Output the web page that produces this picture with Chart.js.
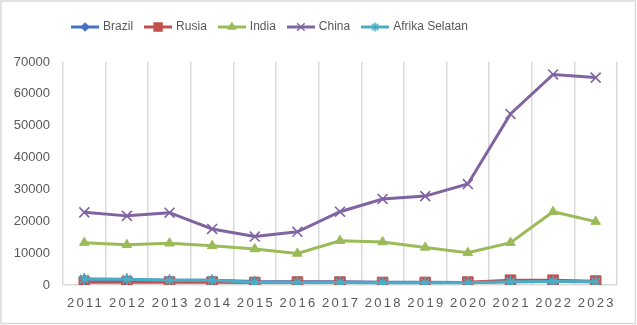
<!DOCTYPE html>
<html>
<head>
<meta charset="utf-8">
<script src="https://cdn.jsdelivr.net/npm/chart.js@4"></script>
<style>
  html, body { margin: 0; padding: 0; background: #fff; }
  #wrap { width: 637px; height: 325px; position: relative; }
</style>
</head>
<body>
<div id="wrap"><canvas id="bricsChart" width="637" height="325"></canvas></div>
<script>
// tahun dan nilai per negara
const years = ['2011', '2012', '2013', '2014', '2015', '2016', '2017', '2018', '2019', '2020', '2021', '2022', '2023'];
const brazil = [1800, 1700, 1500, 1500, 1100, 1000, 1000, 900, 900, 800, 1000, 1100, 1000];
const rusia = [900, 900, 900, 900, 800, 900, 900, 800, 800, 900, 1500, 1500, 1200];
const india = [13300, 12600, 13100, 12300, 11300, 9900, 13900, 13500, 11800, 10100, 13300, 23000, 19900];
const china = [22800, 21700, 22700, 17600, 15200, 16700, 23000, 27000, 27900, 31700, 53700, 66100, 65100];
const afrikaSelatan = [1900, 1800, 1500, 1500, 900, 800, 800, 700, 700, 700, 1000, 1100, 1000];
const yTicks = [0, 10000, 20000, 30000, 40000, 50000, 60000, 70000];

const textColor = '#595959';
const gridColor = '#d9d9d9';

// gaya garis + penanda tiap seri
const series = [
  { label: 'Brazil', data: brazil, color: '#4472C4', style: 'rectRot', r: 5 },
  { label: 'Rusia', data: rusia, color: '#C0504D', style: 'rect', r: 7.5 },
  { label: 'India', data: india, color: '#9BBB59', style: 'triangle', r: 5.5 },
  { label: 'China', data: china, color: '#8064A2', style: 'crossRot', r: 7 },
  { label: 'Afrika Selatan', data: afrikaSelatan, color: '#4BACC6', style: 'star', r: 6 }
];

// ikon legenda: garis pendek dengan penanda di tengah
function legendIcon(s) {
  const c = document.createElement('canvas');
  c.width = 28; c.height = 14;
  const g = c.getContext('2d');
  g.strokeStyle = s.color;
  g.lineWidth = 3;
  g.beginPath(); g.moveTo(0, 7); g.lineTo(28, 7); g.stroke();
  g.fillStyle = s.color;
  g.strokeStyle = s.color;
  g.lineWidth = 1.5;
  Chart.helpers.drawPoint(g, { pointStyle: s.style, radius: s.r * 0.75, borderWidth: 1.5, rotation: 0 }, 14, 7);
  return c;
}
const icons = series.map(legendIcon);

const datasets = series.map((s, i) => ({
  label: s.label,
  data: s.data,
  borderColor: s.color,
  backgroundColor: s.color,
  borderWidth: 3,
  pointStyle: s.style,
  pointRadius: s.r,
  pointBorderWidth: s.style === 'crossRot' || s.style === 'star' ? 1.6 : 1,
  pointHoverRadius: s.r,
  tension: 0,
  order: series.length - i // seri terakhir digambar paling atas
}));

// bingkai tipis di sekeliling grafik
const frame = {
  id: 'frame',
  beforeDraw(chart) {
    const c = chart.ctx;
    c.save();
    c.fillStyle = '#fff';
    c.fillRect(0, 0, chart.width, chart.height);
    c.strokeStyle = gridColor;
    c.lineWidth = 1.5;
    c.strokeRect(1, 1, chart.width - 2.5, chart.height - 2.5);
    c.restore();
  }
};

// jarak tambahan di bawah legenda, dan legenda digeser sedikit ke kiri
const legendGap = {
  id: 'legendGap',
  beforeInit(chart) {
    const fit = chart.legend.fit;
    chart.legend.fit = function () {
      fit.bind(chart.legend)();
      this.height += 19;
      if (this.lineWidths) this.lineWidths[0] += 76;
    };
  }
};

// label tahun dengan jarak huruf renggang
const yearLabels = {
  id: 'yearLabels',
  afterDraw(chart) {
    const sx = chart.scales.x;
    const c = chart.ctx;
    c.save();
    c.font = '13px "Liberation Sans", Arial, sans-serif';
    c.fillStyle = textColor;
    c.textBaseline = 'middle';
    c.textAlign = 'left';
    c.letterSpacing = '2.3px';
    years.forEach((y, i) => {
      const w = c.measureText(y).width - 2.3;
      c.fillText(y, sx.getPixelForValue(i) - w / 2, sx.top + 18);
    });
    c.restore();
  }
};

new Chart(document.getElementById('bricsChart'), {
  type: 'line',
  data: { labels: years, datasets: datasets },
  options: {
    responsive: false,
    animation: false,
    layout: { padding: { top: 8, right: 20, bottom: 0, left: 0 } },
    plugins: {
      legend: {
        position: 'top',
        labels: {
          usePointStyle: true,
          pointStyleWidth: 24,
          padding: 13,
          color: textColor,
          font: { family: '"Liberation Sans", Arial, sans-serif', size: 12 },
          sort: (a, b) => a.datasetIndex - b.datasetIndex,
          generateLabels(chart) {
            const items = Chart.defaults.plugins.legend.labels.generateLabels(chart);
            items.forEach(it => { it.pointStyle = icons[it.datasetIndex]; });
            return items;
          }
        }
      },
      tooltip: { enabled: false }
    },
    scales: {
      x: {
        offset: true,
        grid: { display: true, offset: true, color: gridColor, lineWidth: 1.5, drawTicks: false },
        border: { display: true, color: gridColor, width: 1.5 },
        ticks: { color: 'rgba(0,0,0,0)', font: { size: 13 } },
        afterFit(scale) { scale.height = 40; }
      },
      y: {
        min: 0,
        max: 70000,
        afterBuildTicks(scale) { scale.ticks = yTicks.map(v => ({ value: v })); },
        grid: { display: false, drawTicks: false },
        border: { display: false },
        ticks: {
          color: textColor,
          padding: 13,
          font: { family: '"Liberation Sans", Arial, sans-serif', size: 13 },
          callback: v => String(v)
        },
        afterFit(scale) { scale.width = 63; }
      }
    }
  },
  plugins: [frame, legendGap, yearLabels]
});
</script>
</body>
</html>
